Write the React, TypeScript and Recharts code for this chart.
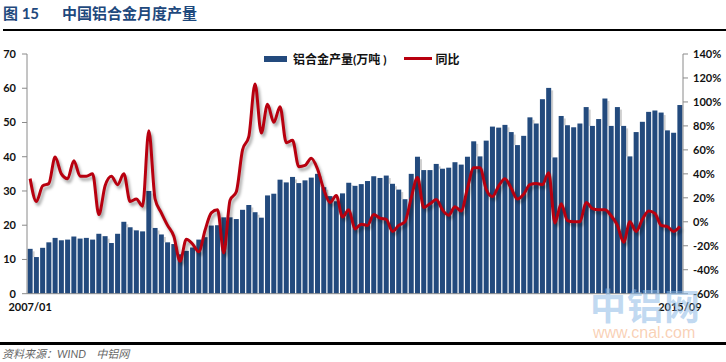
import React from 'react';
import { ComposedChart, Bar, Line, XAxis, YAxis, Legend } from 'recharts';

const production: number[] = [
  13.1, 10.7, 13.4, 15.0, 16.3, 15.6, 15.8, 16.7, 16.1, 16.3, 15.8, 17.5,
  16.8, 14.8, 17.5, 21.0, 19.4, 18.5, 18.2, 30.0, 19.2, 17.3, 15.0, 14.5,
  11.5, 12.5, 13.5, 15.8, 16.5, 19.9, 20.0, 22.3, 22.3, 21.8, 24.5, 25.9,
  23.8, 22.2, 28.7, 29.2, 33.3, 32.5, 34.1, 32.3, 33.1, 33.9, 35.0, 31.1,
  28.5, 27.0, 29.3, 32.4, 31.5, 32.0, 32.9, 34.3, 33.8, 34.5, 32.1, 30.4,
  27.6, 35.0, 40.0, 36.1, 36.1, 37.9, 36.5, 36.8, 38.4, 37.7, 40.0, 44.5,
  40.1, 44.7, 48.8, 48.5, 49.3, 47.2, 43.4, 46.1, 51.5, 49.7, 56.8, 60.1,
  39.8, 51.9, 49.2, 48.6, 49.7, 54.5, 49.0, 51.0, 57.0, 49.0, 54.5, 49.0,
  40.1, 47.2, 50.2, 53.1, 53.5, 52.9, 47.7, 47.0, 55.1,
];

const yoy: number[] = [
  36, 17, 30, 32, 54, 40, 36, 51, 38, 38, 40, 6,
  30, 38, 31, 40, 17, 19, 13, 76, 19, 7.5, -3, -12,
  -33, -14.5, -18.5, -25, -7, 7.5, 10, -26, 18, 25, 60, 71,
  115, 74, 98, 83, 96, 66, 68, 46, 47, 53, 44, 27,
  16, 22, 4, 10, -6, -2, -3, 6, 3, 2, -8, -3,
  0, 20, 37, 12, 15, 18.5, 10, 5.5, 12.5, 9, 28, 45,
  45, 27, 21, 30, 36, 28, 19, 23, 31, 32, 31, 41,
  -1, 15, 1, 0, 0, 16, 11, 10, 10, 5, -3, -17,
  0, -8, 2, 9, 7, -3, -4, -8, -4,
];

const startYear = 2007;
const months: string[] = production.map((_, i) => {
  const y = startYear + Math.floor(i / 12);
  const m = (i % 12) + 1;
  return `${y}/${m < 10 ? '0' + m : m}`;
});

const leftTicks = [0, 10, 20, 30, 40, 50, 60, 70];
const rightTicks = [-60, -40, -20, 0, 20, 40, 60, 80, 100, 120, 140];
const xTicks = [months[0], months[months.length - 1]];

const seriesBarName = '铝合金产量(万吨 )';
const seriesLineName = '同比';
const titleNo = '图 15';
const titleText = '中国铝合金月度产量';
const sourceText = '资料来源：WIND    中铝网';

const data = months.map((m, i) => ({ month: m, prod: production[i], yoy: yoy[i] }));

const BAR = '#234a7d';
const RED = '#b8000f';
const AXIS = '#8a8a8a';
const FONT = 'Lato, "Noto Sans CJK SC", sans-serif';

const BarWithShadow = (props: any) => {
  const { x, y, width, height, index, value } = props;
  if (height == null || height <= 0) return null;
  const v = Array.isArray(value) ? value[1] : value;
  const ppu = v ? height / v : 0;
  const next = production[index + 1];
  let shadow = null;
  if (next != null && next < v) {
    const nextTop = y + height - next * ppu;
    const sy = y + 2.5;
    const sh = nextTop - sy;
    if (sh > 0) {
      shadow = <rect x={x + width} y={sy} width={2} height={sh} fill="#cfcfcf" />;
    }
  }
  return (
    <g>
      {shadow}
      <rect x={x} y={y} width={width} height={height} fill={BAR} />
    </g>
  );
};

const renderLegend = () => (
  <div style={{ display: 'flex', alignItems: 'center', fontFamily: FONT, fontWeight: 700, fontSize: 12, color: '#111', whiteSpace: 'nowrap' }}>
    <span style={{ display: 'inline-block', width: 23, height: 6, background: BAR, marginRight: 6 }} />
    <span>{seriesBarName}</span>
    <span style={{ display: 'inline-block', width: 28, height: 3, background: RED, marginLeft: 17, marginRight: 4 }} />
    <span>{seriesLineName}</span>
  </div>
);

export default function App() {
  return (
    <div style={{ position: 'absolute', left: 0, top: 0, width: 726, height: 362, background: '#fff', overflow: 'hidden' }}>
      <style>{`.recharts-line-curve { filter: drop-shadow(2px 3px 1.5px rgba(0,0,0,0.35)); }`}</style>
      <div style={{ position: 'absolute', left: 3, top: 2, fontFamily: FONT, fontWeight: 700, fontSize: 15, color: '#1f497d', whiteSpace: 'nowrap' }}>
        <span>{titleNo}</span>
        <span style={{ position: 'absolute', left: 59, top: 0 }}>{titleText}</span>
      </div>
      <div style={{ position: 'absolute', left: 3, top: 29, width: 723, height: 2, background: '#000' }} />
      <ComposedChart
        width={726}
        height={362}
        data={data}
        margin={{ top: 54, right: 0, bottom: 21.3, left: 0 }}
        barCategoryGap="10%"
      >
        <XAxis
          dataKey="month"
          ticks={xTicks}
          interval={0}
          tickLine={false}
          tickSize={0}
          tickMargin={9}
          height={30}
          axisLine={{ stroke: AXIS }}
          tick={{ fontFamily: FONT, fontWeight: 700, fontSize: 11, fill: '#111' }}
        />
        <YAxis
          yAxisId="left"
          domain={[0, 70]}
          ticks={leftTicks}
          width={27}
          tickSize={5}
          tickMargin={6}
          axisLine={{ stroke: AXIS }}
          tickLine={{ stroke: AXIS }}
          tick={{ fontFamily: FONT, fontWeight: 700, fontSize: 11, fill: '#111' }}
        />
        <YAxis
          yAxisId="right"
          orientation="right"
          domain={[-60, 140]}
          ticks={rightTicks}
          width={43}
          tickSize={5}
          tickMargin={5}
          tickFormatter={(v: number) => `${v}%`}
          axisLine={{ stroke: AXIS }}
          tickLine={{ stroke: AXIS }}
          tick={{ fontFamily: FONT, fontWeight: 700, fontSize: 11, fill: '#111' }}
        />
        <Legend content={renderLegend} wrapperStyle={{ position: 'absolute', top: 50, left: 264, width: 'auto' }} />
        <Bar yAxisId="left" dataKey="prod" name={seriesBarName} fill={BAR} shape={BarWithShadow} isAnimationActive={false} />
        <Line
          yAxisId="right"
          dataKey="yoy"
          name={seriesLineName}
          type="monotone"
          stroke={RED}
          strokeWidth={3}
          dot={false}
          activeDot={false}
          isAnimationActive={false}
        />
      </ComposedChart>
      <div style={{ position: 'absolute', left: 590, top: 278, fontFamily: '"Noto Sans CJK SC", sans-serif', fontWeight: 700, fontSize: 36, letterSpacing: 1, color: 'rgba(140,185,230,0.55)', whiteSpace: 'nowrap', pointerEvents: 'none' }}>中铝网</div>
      <div style={{ position: 'absolute', left: 593, top: 324, fontFamily: '"Liberation Sans", sans-serif', fontSize: 16, color: 'rgba(244,170,120,0.55)', whiteSpace: 'nowrap', pointerEvents: 'none' }}>www.cnal.com</div>
      <div style={{ position: 'absolute', left: 0, top: 342, width: 726, height: 3, background: '#000' }} />
      <div style={{ position: 'absolute', left: 2, top: 345, fontFamily: FONT, fontStyle: 'italic', fontSize: 11, color: '#666', whiteSpace: 'pre' }}>{sourceText}</div>
    </div>
  );
}
